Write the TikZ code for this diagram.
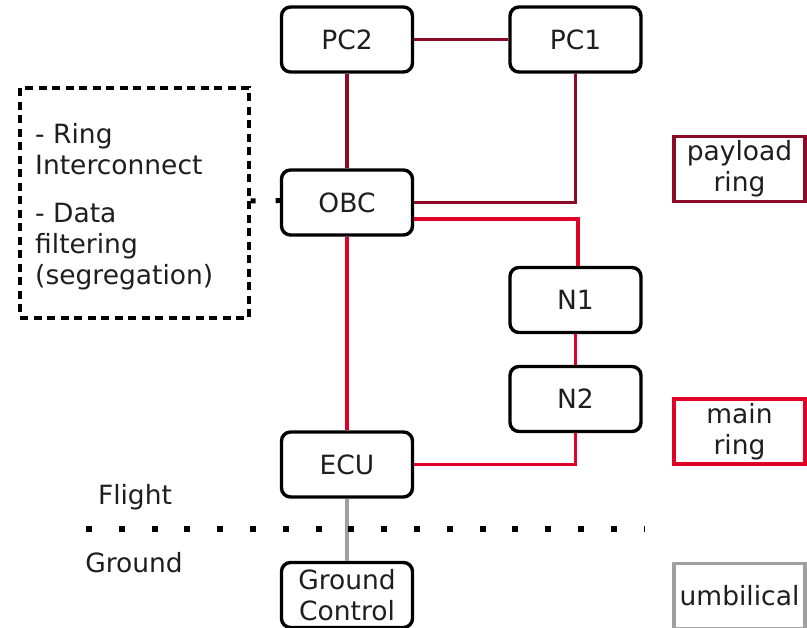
\documentclass[tikz,border=0pt]{standalone}
\usepackage{fontspec}
\setmainfont{DejaVu Sans}
\definecolor{txt}{HTML}{1E1E1E}
\definecolor{payred}{HTML}{8C0A25}
\definecolor{mainred}{HTML}{E00028}
\definecolor{umbgray}{HTML}{A0A0A0}
\tikzset{
  unit/.style={draw=black, line width=3.4pt, rounded corners=9pt, minimum width=131pt, minimum height=65pt, inner sep=2pt, align=center, text=txt, font=\fontsize{26.5}{31}\selectfont},
  legendbox/.style={line width=3.4pt, minimum width=131pt, minimum height=65pt, inner sep=2pt, align=center, text=txt, font=\fontsize{26.5}{31}\selectfont},
  payline/.style={draw=payred, line width=3.2pt},
  mainline/.style={draw=mainred, line width=3.2pt},
  umbline/.style={draw=umbgray, line width=3.2pt},
  lbl/.style={text=txt, font=\fontsize{26.5}{31}\selectfont, inner sep=0pt}
}
\begin{document}
\begin{tikzpicture}[x=1pt, y=-1pt]
\useasboundingbox (0,0) rectangle (807,628);
% nodes
\node[unit] (PC2) at (347,39.5) {PC2};
\node[unit] (PC1) at (575.5,39.5) {PC1};
\node[unit] (OBC) at (347,202.5) {OBC};
\node[unit] (N1) at (575.5,300) {N1};
\node[unit] (N2) at (575.5,399) {N2};
\node[unit] (ECU) at (347,464.5) {ECU};
\node[unit] (GC) at (347,595) {Ground\\Control};
% legend
\node[legendbox, draw=payred] (LP) at (739.5,169) {payload\\ring};
\node[legendbox, draw=mainred] (LM) at (739.5,431.5) {main\\ring};
\node[legendbox, draw=umbgray] (LU) at (739.5,596) {umbilical};
% dashed box
\node[draw=black, dash pattern=on 8pt off 5.5pt, line width=3.2pt, minimum width=229pt, minimum height=230pt, inner sep=0pt] (DB) at (134.5,203) {};
\node[lbl, anchor=north west, align=left] (DT) at (35,123) {- Ring\\Interconnect\\[17pt]- Data\\filtering\\(segregation)};
% connectors
\draw[payline] (PC2.east) -- (PC1.west);
\draw[payline] (PC2.south) -- (OBC.north);
\draw[payline] (PC1.south) |- (OBC.east);
\draw[mainline] ([yshift=-16.5pt]OBC.east) -| ([xshift=2.5pt]N1.north);
\draw[mainline] (N1.south) -- (N2.south |- N2.north);
\draw[mainline] (N2.south) |- (ECU.east);
\draw[mainline] (OBC.south) -- (ECU.north);
\draw[umbline] (ECU.south) -- (GC.north);
\draw[line width=5pt, dash pattern=on 5pt off 20pt] ([yshift=2pt]DB.east) -- ([yshift=2pt]OBC.west);
% flight / ground
\coordinate (FL) at (86,529);
\coordinate (FR) at (644,529);
\draw[line width=6pt, dash pattern=on 6pt off 26.8pt] (FL) -- (FR);
\node[lbl] (FLT) at (135,497) {Flight};
\node[lbl] (GRD) at (134,563) {Ground};
\end{tikzpicture}
\end{document}
